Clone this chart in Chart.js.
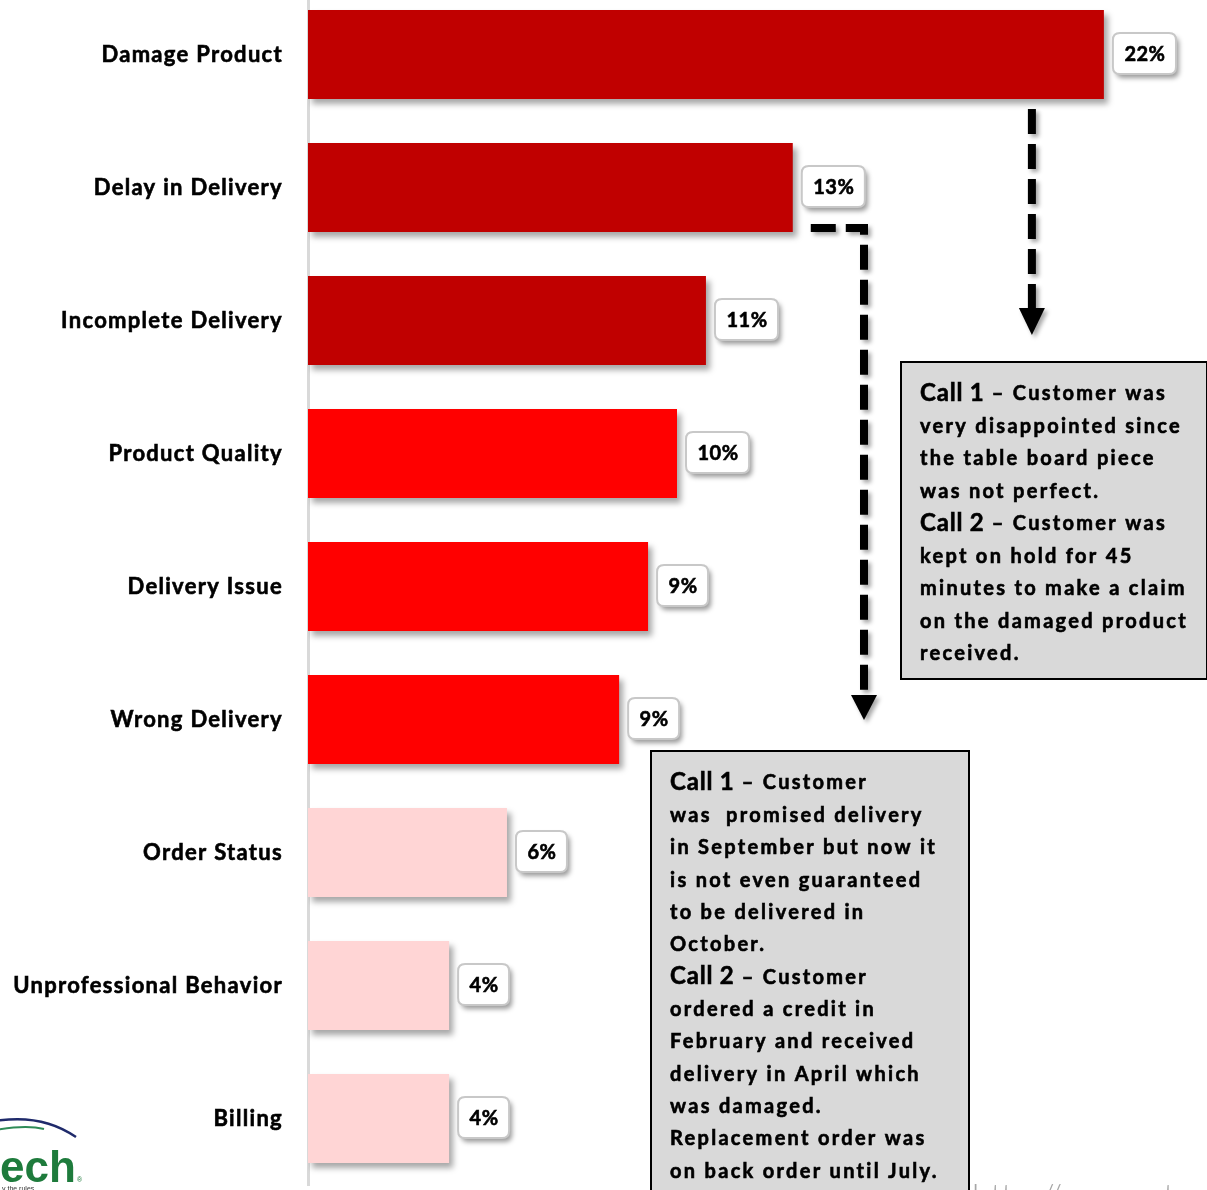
<!DOCTYPE html>
<html><head><meta charset="utf-8">
<script src="https://cdn.jsdelivr.net/npm/chart.js@4/dist/chart.umd.min.js"></script>
<style>
html,body{margin:0;padding:0;background:#fff;overflow:hidden;width:1207px;height:1190px;}
#wrap{position:absolute;left:0;top:-12px;width:1207px;height:1210px;}
</style></head><body>
<div id="wrap"><canvas id="c" width="1207" height="1210"></canvas></div>
<script>
// ---- data ----
const categories = ['Damage Product', 'Delay in Delivery', 'Incomplete Delivery', 'Product Quality', 'Delivery Issue', 'Wrong Delivery', 'Order Status', 'Unprofessional Behavior', 'Billing'];
const shares = [22.0, 13.4, 11.0, 10.2, 9.4, 8.6, 5.5, 3.9, 3.9];
const shareLabels = ['22%', '13%', '11%', '10%', '9%', '9%', '6%', '4%', '4%'];
const callNotes1 = [
  ['Call 1', ' – Customer was'],
  ['', 'very disappointed since'],
  ['', 'the table board piece'],
  ['', 'was not perfect.'],
  ['Call 2', ' – Customer was'],
  ['', 'kept on hold for 45'],
  ['', 'minutes to make a claim'],
  ['', 'on the damaged product'],
  ['', 'received.']
];
const callNotes2 = [
  ['Call 1', ' – Customer'],
  ['', 'was  promised delivery'],
  ['', 'in September but now it'],
  ['', 'is not even guaranteed'],
  ['', 'to be delivered in'],
  ['', 'October.'],
  ['Call 2', ' – Customer'],
  ['', 'ordered a credit in'],
  ['', 'February and received'],
  ['', 'delivery in April which'],
  ['', 'was damaged.'],
  ['', 'Replacement order was'],
  ['', 'on back order until July.']
];

// ---- styles ----
const OFF = 12; // canvas is shifted up by this many px
const FONT = 'Lato, "Open Sans", sans-serif';
function barColor(i){ return i < 3 ? '#C00000' : (i < 6 ? '#FF0000' : '#FFD5D5'); }

function rr(ctx, x, y, w, h, r){
  ctx.beginPath();
  ctx.moveTo(x + r, y); ctx.lineTo(x + w - r, y); ctx.quadraticCurveTo(x + w, y, x + w, y + r);
  ctx.lineTo(x + w, y + h - r); ctx.quadraticCurveTo(x + w, y + h, x + w - r, y + h);
  ctx.lineTo(x + r, y + h); ctx.quadraticCurveTo(x, y + h, x, y + h - r);
  ctx.lineTo(x, y + r); ctx.quadraticCurveTo(x, y, x + r, y); ctx.closePath();
}

function boldText(ctx, t, x, y){
  ctx.fillText(t, x, y);
  ctx.lineWidth = 0.6; ctx.strokeStyle = ctx.fillStyle; ctx.strokeText(t, x, y);
}

function arrow(ctx, pts, tipX, triTop, tipY){
  ctx.save();
  ctx.shadowColor = 'rgba(0,0,0,0.35)'; ctx.shadowBlur = 4; ctx.shadowOffsetX = 3; ctx.shadowOffsetY = 3;
  ctx.strokeStyle = '#000'; ctx.fillStyle = '#000'; ctx.lineWidth = 8; ctx.setLineDash([25, 10]);
  ctx.lineJoin = 'miter';
  ctx.beginPath(); ctx.moveTo(pts[0][0], pts[0][1]);
  for (let k = 1; k < pts.length; k++) ctx.lineTo(pts[k][0], pts[k][1]);
  ctx.stroke();
  ctx.setLineDash([]);
  ctx.beginPath(); ctx.moveTo(tipX - 13, triTop); ctx.lineTo(tipX + 13, triTop); ctx.lineTo(tipX, tipY); ctx.closePath(); ctx.fill();
  ctx.restore();
}

function noteBox(ctx, x, y, w, h, lines, tx, ty0, lh){
  ctx.save();
  ctx.fillStyle = '#D9D9D9'; ctx.fillRect(x, y, w, h);
  ctx.strokeStyle = '#000'; ctx.lineWidth = 2; ctx.strokeRect(x, y, w, h);
  ctx.fillStyle = '#000'; ctx.textBaseline = 'middle'; ctx.textAlign = 'left';
  lines.forEach((ln, i) => {
    let cx = tx; const cy = ty0 + i * lh;
    if (ln[0]) {
      ctx.font = 'bold 24px ' + FONT; ctx.letterSpacing = '0.8px';
      boldText(ctx, ln[0], cx, cy); cx += ctx.measureText(ln[0]).width;
    }
    ctx.font = 'bold 20px ' + FONT; ctx.letterSpacing = '2.3px';
    boldText(ctx, ln[1], cx, cy + 1);
  });
  ctx.restore();
}

const decor = {
  id: 'decor',
  beforeDraw(chart){ chart.ctx.letterSpacing = '1.3px'; },
  beforeDatasetDraw(chart){
    const ctx = chart.ctx; ctx.save();
    ctx.shadowColor = 'rgba(0,0,0,0.35)'; ctx.shadowBlur = 6; ctx.shadowOffsetX = 4; ctx.shadowOffsetY = 5;
  },
  afterDatasetDraw(chart){ chart.ctx.restore(); },
  afterDatasetsDraw(chart){
    const ctx = chart.ctx; const meta = chart.getDatasetMeta(0);
    ctx.save();
    ctx.font = 'bold 20px ' + FONT; ctx.letterSpacing = '0.5px'; ctx.textAlign = 'center'; ctx.textBaseline = 'middle';
    meta.data.forEach((bar, i) => {
      const t = shareLabels[i]; const tw = ctx.measureText(t).width;
      const w = tw + 22, h = 41, x = bar.x + 9, y = bar.y - h / 2 - 1;
      ctx.save();
      ctx.shadowColor = 'rgba(0,0,0,0.4)'; ctx.shadowBlur = 5; ctx.shadowOffsetX = 3; ctx.shadowOffsetY = 4;
      ctx.fillStyle = '#fff'; rr(ctx, x, y, w, h, 7); ctx.fill();
      ctx.restore();
      ctx.strokeStyle = '#C8C8C8'; ctx.lineWidth = 2; rr(ctx, x, y, w, h, 7); ctx.stroke();
      ctx.fillStyle = '#000'; boldText(ctx, t, x + w / 2 + 0.5, bar.y);
    });
    ctx.restore();
  },
  afterDraw(chart){
    const ctx = chart.ctx; const meta = chart.getDatasetMeta(0);
    ctx.letterSpacing = '0px';
    const b0 = meta.data[0], b1 = meta.data[1];
    // arrow from Damage Product
    const ax = b0.x - 72;
    arrow(ctx, [[ax, b0.y + b0.height / 2 + 10], [ax, 308 + OFF]], ax, 308 + OFF, 335 + OFF);
    // arrow from Delay in Delivery
    const bx = 864, by = 228 + OFF;
    arrow(ctx, [[b1.x + 18, by], [bx, by], [bx, 695 + OFF]], bx, 695 + OFF, 720 + OFF);
    // note boxes
    noteBox(ctx, 901, 362 + OFF, 306, 317, callNotes1, 920, 393 + OFF, 32.5);
    noteBox(ctx, 651, 751 + OFF, 318, 470, callNotes2, 670, 782 + OFF, 32.35);
    // faint URL at bottom right
    ctx.save();
    ctx.letterSpacing = '0px';
    ctx.fillStyle = '#A6A6A6'; ctx.font = '300 34px ' + FONT; ctx.textBaseline = 'top';
    ctx.fillText('http://www.xtech.com', 972, 1180 + OFF);
    ctx.restore();
    // logo at bottom left
    ctx.save();
    ctx.lineWidth = 2.5; ctx.strokeStyle = '#1F2A6B';
    ctx.beginPath(); ctx.moveTo(-10, 1122 + OFF); ctx.quadraticCurveTo(40, 1112 + OFF, 76, 1137 + OFF); ctx.stroke();
    ctx.strokeStyle = '#2E8B57'; ctx.lineWidth = 2;
    ctx.beginPath(); ctx.moveTo(-10, 1131 + OFF); ctx.quadraticCurveTo(25, 1124 + OFF, 44, 1129 + OFF); ctx.stroke();
    ctx.fillStyle = '#1E7B3C'; ctx.font = 'bold 44px Arial, "Liberation Sans", sans-serif'; ctx.textBaseline = 'alphabetic';
    ctx.fillText('ech', 0, 1182 + OFF);
    ctx.font = '7px Arial, sans-serif'; ctx.fillText('®', 77, 1182 + OFF);
    ctx.fillStyle = '#333'; ctx.font = '7px Arial, sans-serif';
    ctx.fillText('y the rules', 2, 1191 + OFF);
    ctx.restore();
  }
};

new Chart(document.getElementById('c'), {
  type: 'bar',
  data: {
    labels: categories,
    datasets: [{
      data: shares,
      backgroundColor: shares.map((v, i) => barColor(i)),
      borderWidth: 0,
      barPercentage: 0.67,
      categoryPercentage: 1.0
    }]
  },
  options: {
    indexAxis: 'y',
    responsive: false,
    animation: false,
    devicePixelRatio: 1,
    layout: { padding: { top: 0, right: 0, bottom: 13, left: 0 } },
    plugins: { legend: { display: false }, tooltip: { enabled: false } },
    scales: {
      x: { display: false, min: 0, max: 24.85 },
      y: {
        afterFit(scale){ scale.width = 308; scale.paddingTop = 0; scale.paddingBottom = 0; },
        grid: { display: true, color: 'rgba(0,0,0,0)', drawTicks: false },
        border: { display: true, color: '#D9D9D9', width: 3 },
        ticks: { color: '#000', padding: 25, textStrokeColor: '#000', textStrokeWidth: 0.6,
                 font: { family: FONT, weight: 'bold', size: 22 } }
      }
    }
  },
  plugins: [decor]
});
</script>
</body></html>
